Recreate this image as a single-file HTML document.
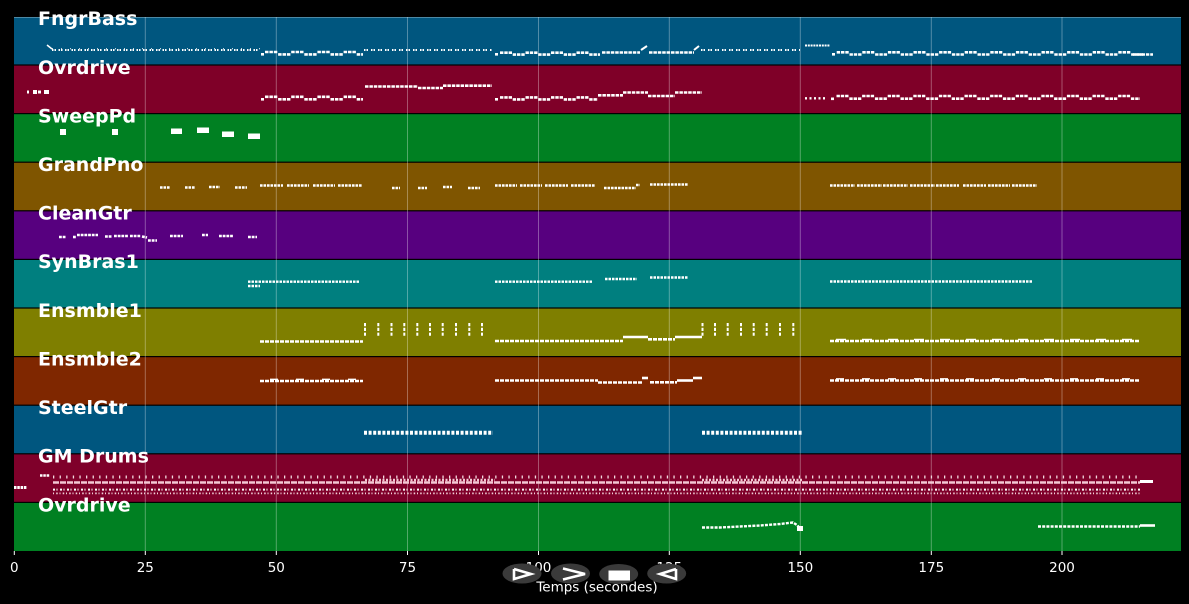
<!DOCTYPE html>
<html><head><meta charset="utf-8"><style>
html,body{margin:0;padding:0;background:#000;}
svg{display:block;}
</style></head><body>
<svg width="1189" height="604" viewBox="0 0 1189 604" xmlns="http://www.w3.org/2000/svg" font-family="'DejaVu Sans','Liberation Sans',sans-serif">
<rect x="0" y="0" width="1189" height="604" fill="#000"/>
<!-- tracks -->
<rect x="14" y="17" width="1167" height="47.4" fill="#00567f"/>
<rect x="14" y="65.6" width="1167" height="47.4" fill="#7f0028"/>
<rect x="14" y="114.2" width="1167" height="47.4" fill="#008022"/>
<rect x="14" y="162.8" width="1167" height="47.4" fill="#7f5500"/>
<rect x="14" y="211.4" width="1167" height="47.4" fill="#57007f"/>
<rect x="14" y="260" width="1167" height="47.4" fill="#007f7f"/>
<rect x="14" y="308.6" width="1167" height="47.4" fill="#7f7f00"/>
<rect x="14" y="357.2" width="1167" height="47.4" fill="#7f2700"/>
<rect x="14" y="405.8" width="1167" height="47.4" fill="#00567f"/>
<rect x="14" y="454.4" width="1167" height="47.4" fill="#7f002a"/>
<rect x="14" y="503" width="1167" height="48" fill="#008022"/>
<line x1="14" y1="17.5" x2="1181" y2="17.5" stroke="rgba(255,255,255,0.3)" stroke-width="1"/>
<!-- grid -->
<g stroke="rgba(255,255,255,0.32)" stroke-width="1">
<line x1="145.3" y1="17" x2="145.3" y2="551"/>
<line x1="276.3" y1="17" x2="276.3" y2="551"/>
<line x1="407.5" y1="17" x2="407.5" y2="551"/>
<line x1="538.5" y1="17" x2="538.5" y2="551"/>
<line x1="669.3" y1="17" x2="669.3" y2="551"/>
<line x1="800.3" y1="17" x2="800.3" y2="551"/>
<line x1="931.3" y1="17" x2="931.3" y2="551"/>
<line x1="1062" y1="17" x2="1062" y2="551"/>
</g>

<g fill="#fff" stroke="#fff">
<!-- Track 1 FngrBass -->
<line x1="47" y1="45" x2="52" y2="49" stroke-width="1.5"/>
<line x1="52" y1="50" x2="260" y2="50" stroke-width="2" stroke-dasharray="1.5 1 1.5 2.5"/>
<line x1="52" y1="48.8" x2="260" y2="48.8" stroke-width="1" stroke-dasharray="1 8"/>
<rect x="261" y="53" width="3" height="2.6" stroke="none"/>
<line x1="265" y1="52" x2="363" y2="52" stroke-width="2.6" stroke-dasharray="3.5 .9 3.5 .9 3.5 13.9"/>
<line x1="278.1" y1="54.4" x2="363" y2="54.4" stroke-width="2.6" stroke-dasharray="3.5 .9 3.5 .9 3.5 13.9"/>
<line x1="364" y1="50" x2="492" y2="50" stroke-width="2" stroke-dasharray="1.5 1 1.5 3"/>
<rect x="495" y="53" width="3" height="2.6" stroke="none"/>
<line x1="500" y1="52.7" x2="600" y2="52.7" stroke-width="2.6" stroke-dasharray="3.4 .9 3.4 .9 3.4 13.5"/>
<line x1="512.7" y1="54.6" x2="600" y2="54.6" stroke-width="2.6" stroke-dasharray="3.4 .9 3.4 .9 3.4 13.5"/>
<line x1="602" y1="52.5" x2="640" y2="52.5" stroke-width="2.6" stroke-dasharray="3.5 .9"/>
<line x1="641" y1="50" x2="647" y2="46" stroke-width="2"/>
<line x1="649" y1="52.5" x2="694" y2="52.5" stroke-width="2.6" stroke-dasharray="3.5 .9"/>
<line x1="694" y1="50" x2="699" y2="46" stroke-width="2"/>
<line x1="701" y1="50" x2="800" y2="50" stroke-width="2" stroke-dasharray="1.5 1 1.5 3"/>
<line x1="805" y1="45.5" x2="830" y2="45.5" stroke-width="2" stroke-dasharray="2 .8"/>
<rect x="832" y="53" width="3" height="2.6" stroke="none"/>
<line x1="836.7" y1="52.3" x2="1132" y2="52.3" stroke-width="2.6" stroke-dasharray="3.4 .9 3.4 .9 3.4 13.6"/>
<line x1="849.5" y1="54.5" x2="1153" y2="54.5" stroke-width="2.6" stroke-dasharray="3.4 .9 3.4 .9 3.4 13.6"/>
<line x1="1133" y1="54.5" x2="1153" y2="54.5" stroke-width="2.6" stroke-dasharray="3.4 .9"/>

<!-- Track 2 Ovrdrive -->
<rect x="27" y="90.5" width="2" height="3" stroke="none"/>
<rect x="33" y="90" width="4" height="4" stroke="none"/>
<rect x="38" y="90.5" width="3" height="3" stroke="none"/>
<rect x="44" y="90" width="5" height="4" stroke="none"/>
<rect x="261" y="98" width="3" height="2.6" stroke="none"/>
<line x1="265" y1="96.8" x2="363" y2="96.8" stroke-width="2.6" stroke-dasharray="3.5 .9 3.5 .9 3.5 13.9"/>
<line x1="278.1" y1="99.3" x2="363" y2="99.3" stroke-width="2.6" stroke-dasharray="3.5 .9 3.5 .9 3.5 13.9"/>
<line x1="365" y1="86.5" x2="418" y2="86.5" stroke-width="2.6" stroke-dasharray="3.5 .9"/>
<line x1="418" y1="88" x2="443" y2="88" stroke-width="2.6" stroke-dasharray="3.5 .9"/>
<line x1="443" y1="85.7" x2="492" y2="85.7" stroke-width="2.6" stroke-dasharray="3.5 .9"/>
<rect x="495" y="98" width="3" height="2.6" stroke="none"/>
<line x1="500" y1="97.4" x2="598" y2="97.4" stroke-width="2.6" stroke-dasharray="3.4 .9 3.4 .9 3.4 13.5"/>
<line x1="512.7" y1="99.4" x2="598" y2="99.4" stroke-width="2.6" stroke-dasharray="3.4 .9 3.4 .9 3.4 13.5"/>
<line x1="598" y1="95.3" x2="623" y2="95.3" stroke-width="2.6" stroke-dasharray="3.5 .9"/>
<line x1="623" y1="92.5" x2="648" y2="92.5" stroke-width="2.6" stroke-dasharray="3.5 .9"/>
<line x1="648" y1="96" x2="675" y2="96" stroke-width="2.6" stroke-dasharray="3.5 .9"/>
<line x1="675" y1="92.5" x2="702" y2="92.5" stroke-width="2.6" stroke-dasharray="3.5 .9"/>
<line x1="805" y1="98.3" x2="827" y2="98.3" stroke-width="2.4" stroke-dasharray="2 2.5"/>
<rect x="831" y="97.5" width="3" height="2.6" stroke="none"/>
<line x1="836.5" y1="96" x2="1140" y2="96" stroke-width="2.6" stroke-dasharray="3.4 .9 3.4 .9 3.4 13.6"/>
<line x1="849.3" y1="98.7" x2="1140" y2="98.7" stroke-width="2.6" stroke-dasharray="3.4 .9 3.4 .9 3.4 13.6"/>

<!-- Track 3 SweepPd -->
<rect x="60" y="129" width="6" height="6" stroke="none"/>
<rect x="112" y="129" width="6" height="6" stroke="none"/>
<rect x="171" y="128.5" width="11" height="5.5" stroke="none"/>
<rect x="197" y="127.5" width="12" height="5.5" stroke="none"/>
<rect x="222" y="131.5" width="12" height="5.5" stroke="none"/>
<rect x="248" y="133.5" width="12" height="5.5" stroke="none"/>

<!-- Track 4 GrandPno -->
<g stroke-width="2.6" stroke-dasharray="2.6 .9">
<line x1="160" y1="187.5" x2="170" y2="187.5"/>
<line x1="185" y1="187.5" x2="195" y2="187.5"/>
<line x1="209" y1="187" x2="220" y2="187"/>
<line x1="235" y1="187.5" x2="247" y2="187.5"/>
<line x1="260" y1="185.5" x2="283" y2="185.5"/>
<line x1="287" y1="185.5" x2="309" y2="185.5"/>
<line x1="313" y1="185.5" x2="335" y2="185.5"/>
<line x1="338" y1="185.5" x2="362" y2="185.5"/>
<line x1="392" y1="188" x2="400" y2="188"/>
<line x1="418" y1="188" x2="427" y2="188"/>
<line x1="443" y1="187" x2="452" y2="187"/>
<line x1="468" y1="188" x2="480" y2="188"/>
<line x1="495" y1="185.5" x2="517" y2="185.5"/>
<line x1="520" y1="185.5" x2="542" y2="185.5"/>
<line x1="545" y1="185.5" x2="568" y2="185.5"/>
<line x1="571" y1="185.5" x2="595" y2="185.5"/>
<line x1="604" y1="188" x2="636" y2="188"/>
<line x1="636" y1="185" x2="640" y2="185"/>
<line x1="650" y1="184.5" x2="688" y2="184.5"/>
<line x1="830" y1="185.5" x2="855" y2="185.5"/>
<line x1="857" y1="185.5" x2="882" y2="185.5"/>
<line x1="883" y1="185.5" x2="908" y2="185.5"/>
<line x1="910" y1="185.5" x2="935" y2="185.5"/>
<line x1="936" y1="185.5" x2="959" y2="185.5"/>
<line x1="963" y1="185.5" x2="986" y2="185.5"/>
<line x1="988" y1="185.5" x2="1010" y2="185.5"/>
<line x1="1012" y1="185.5" x2="1037" y2="185.5"/>
</g>

<!-- Track 5 CleanGtr -->
<g stroke-width="2.6" stroke-dasharray="2.8 .9">
<line x1="59" y1="237" x2="66" y2="237"/>
<line x1="73" y1="237" x2="76" y2="237"/>
<line x1="77" y1="235" x2="98" y2="235"/>
<line x1="105" y1="236.5" x2="112" y2="236.5"/>
<line x1="114" y1="236" x2="128" y2="236"/>
<line x1="130" y1="236" x2="141" y2="236"/>
<line x1="142" y1="236.5" x2="147" y2="237.5"/>
<line x1="148" y1="240.5" x2="157" y2="240.5"/>
<line x1="170" y1="236" x2="183" y2="236"/>
<line x1="202" y1="235" x2="208" y2="235"/>
<line x1="219" y1="236" x2="233" y2="236"/>
<line x1="248" y1="237" x2="257" y2="237"/>
</g>

<!-- Track 6 SynBras1 -->
<g stroke-width="2.4" stroke-dasharray="2.5 1">
<line x1="248" y1="281.7" x2="360" y2="281.7"/>
<line x1="248" y1="286" x2="260" y2="286"/>
<line x1="495" y1="281.7" x2="593" y2="281.7"/>
<line x1="605" y1="279" x2="637" y2="279"/>
<line x1="650" y1="277.5" x2="688" y2="277.5"/>
<line x1="830" y1="281.5" x2="1033" y2="281.5"/>
</g>

<!-- Track 7 Ensmble1 -->
<g stroke-width="2.6">
<line x1="260" y1="341.5" x2="363" y2="341.5" stroke-dasharray="4 1"/>
<line x1="495" y1="341" x2="623" y2="341" stroke-dasharray="4 1"/>
<line x1="623" y1="337" x2="648" y2="337"/>
<line x1="648" y1="339.3" x2="675" y2="339.3" stroke-dasharray="4 1"/>
<line x1="675" y1="337" x2="702" y2="337"/>
<line x1="830" y1="341" x2="1140" y2="341" stroke-dasharray="4 1"/>
<line x1="836" y1="339.5" x2="1140" y2="339.5" stroke-width="1.4" stroke-dasharray="10 16"/>
</g>
<g stroke-width="2" stroke-dasharray="3.2 1.6">
<line x1="365" y1="323" x2="365" y2="337"/>
<line x1="378.3" y1="323" x2="378.3" y2="337"/>
<line x1="391.5" y1="323" x2="391.5" y2="337"/>
<line x1="404.3" y1="323" x2="404.3" y2="337"/>
<line x1="417.3" y1="323" x2="417.3" y2="337"/>
<line x1="430" y1="323" x2="430" y2="337"/>
<line x1="442.7" y1="323" x2="442.7" y2="337"/>
<line x1="456" y1="323" x2="456" y2="337"/>
<line x1="469.3" y1="323" x2="469.3" y2="337"/>
<line x1="482" y1="323" x2="482" y2="337"/>
<line x1="702.5" y1="323" x2="702.5" y2="337"/>
<line x1="715" y1="323" x2="715" y2="337"/>
<line x1="727.7" y1="323" x2="727.7" y2="337"/>
<line x1="741" y1="323" x2="741" y2="337"/>
<line x1="753.7" y1="323" x2="753.7" y2="337"/>
<line x1="766.7" y1="323" x2="766.7" y2="337"/>
<line x1="780" y1="323" x2="780" y2="337"/>
<line x1="793.3" y1="323" x2="793.3" y2="337"/>
</g>

<!-- Track 8 Ensmble2 -->
<g stroke-width="2.6">
<line x1="260" y1="381" x2="363" y2="381" stroke-dasharray="4 1"/>
<line x1="270" y1="379.3" x2="363" y2="379.3" stroke-width="1.4" stroke-dasharray="8 18"/>
<line x1="495" y1="380.5" x2="598" y2="380.5" stroke-dasharray="4 1"/>
<line x1="598" y1="382.5" x2="642" y2="382.5" stroke-dasharray="4 1"/>
<line x1="642" y1="378" x2="648" y2="378"/>
<line x1="650" y1="382.3" x2="677" y2="382.3" stroke-dasharray="4 1"/>
<line x1="677" y1="380.5" x2="693" y2="380.5"/>
<line x1="693" y1="378" x2="702" y2="378"/>
<line x1="830" y1="380.5" x2="1140" y2="380.5" stroke-dasharray="4 1"/>
<line x1="836" y1="378.8" x2="1140" y2="378.8" stroke-width="1.4" stroke-dasharray="8 18"/>
</g>

<!-- Track 9 SteelGtr -->
<g stroke-width="4" stroke-dasharray="3 1.6">
<line x1="364" y1="432.8" x2="493" y2="432.8"/>
<line x1="702" y1="432.8" x2="803" y2="432.8"/>
</g>

<!-- Track 10 GM Drums -->
<line x1="14" y1="487.5" x2="27" y2="487.5" stroke-width="3" stroke-dasharray="2.5 .8"/>
<line x1="40" y1="475.5" x2="50" y2="475.5" stroke-width="2.6" stroke-dasharray="2.5 .8"/>
<line x1="53" y1="477" x2="1140" y2="477" stroke-width="3" stroke-dasharray="1.3 5.3" stroke="#f2d8de"/>
<line x1="53" y1="482.5" x2="1140" y2="482.5" stroke-width="2.6" stroke-dasharray="6 1" stroke="#f4c8d4"/>
<line x1="365" y1="480" x2="495" y2="480" stroke-width="2.5" stroke-dasharray="2 1.5" stroke="#f4c8d4"/>
<line x1="702" y1="480" x2="803" y2="480" stroke-width="2.5" stroke-dasharray="2 1.5" stroke="#f4c8d4"/>
<line x1="53" y1="489.6" x2="1140" y2="489.6" stroke-width="2" stroke-dasharray="2 1.5 1 2.5"/>
<line x1="53" y1="493.4" x2="1140" y2="493.4" stroke-width="1.8" stroke-dasharray="1 2.2 1.5 1.8" stroke="#f2d0d8"/>
<line x1="1140" y1="481.5" x2="1153" y2="481.5" stroke-width="3"/>

<!-- Track 11 Ovrdrive -->
<polyline points="702,527.5 720,527.5 740,526.5 760,525.5 780,524 793,522.5 797,525 800,528.5" fill="none" stroke-width="2.4" stroke-dasharray="3 1.2"/>
<rect x="797" y="526" width="6" height="5" stroke="none"/>
<line x1="1038" y1="526.5" x2="1140" y2="526.5" stroke-width="2.4" stroke-dasharray="3 1.2"/>
<line x1="1140" y1="525.5" x2="1155" y2="525.5" stroke-width="2.6"/>
</g>

<!-- labels -->
<g fill="#fff" font-weight="bold" font-size="19">
<text x="38" y="25">FngrBass</text>
<text x="38" y="73.8">Ovrdrive</text>
<text x="38" y="122.4">SweepPd</text>
<text x="38" y="171">GrandPno</text>
<text x="38" y="219.6">CleanGtr</text>
<text x="38" y="268.2">SynBras1</text>
<text x="38" y="316.8">Ensmble1</text>
<text x="38" y="365.4">Ensmble2</text>
<text x="38" y="414">SteelGtr</text>
<text x="38" y="462.6">GM Drums</text>
<text x="38" y="511.4">Ovrdrive</text>
</g>

<!-- x axis ticks -->
<g stroke="#fff" stroke-width="1">
<line x1="14.3" y1="551" x2="14.3" y2="555"/>
<line x1="145.3" y1="551" x2="145.3" y2="555"/>
<line x1="276.3" y1="551" x2="276.3" y2="555"/>
<line x1="407.5" y1="551" x2="407.5" y2="555"/>
<line x1="538.5" y1="551" x2="538.5" y2="555"/>
<line x1="669.3" y1="551" x2="669.3" y2="555"/>
<line x1="800.3" y1="551" x2="800.3" y2="555"/>
<line x1="931.3" y1="551" x2="931.3" y2="555"/>
<line x1="1062" y1="551" x2="1062" y2="555"/>
</g>
<g fill="#fff" font-size="13.5" text-anchor="middle">
<text x="14.3" y="572">0</text>
<text x="145.3" y="572">25</text>
<text x="276.3" y="572">50</text>
<text x="407.5" y="572">75</text>
<text x="538.5" y="572">100</text>
<text x="669.3" y="572">125</text>
<text x="800.3" y="572">150</text>
<text x="931.3" y="572">175</text>
<text x="1062" y="572">200</text>
</g>

<!-- toolbar overlay -->
<g fill="#3a3a3a">
<ellipse cx="522" cy="573.5" rx="19.5" ry="10"/>
<ellipse cx="570.5" cy="573.5" rx="19.5" ry="10"/>
<ellipse cx="618.7" cy="574" rx="19.5" ry="10"/>
<ellipse cx="666.7" cy="573.5" rx="19.5" ry="10"/>
</g>
<g fill="none" stroke="#fff" stroke-width="2.6" stroke-linejoin="miter">
<polyline points="514,569 531,574 514,579 514,569"/>
<polyline points="563,568.5 585,574 563,579.5"/>
<polyline points="676,569 660,574 676,579 676,569"/>
</g>
<rect x="608.5" y="570.5" width="21.5" height="10" fill="#fff"/>

<text x="597" y="591.5" fill="#fff" font-size="13.5" text-anchor="middle">Temps (secondes)</text>
</svg>
</body></html>
